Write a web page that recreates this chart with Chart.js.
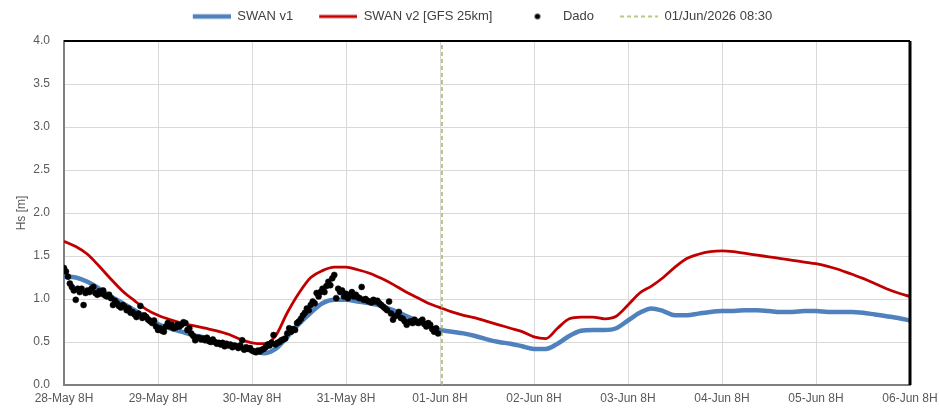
<!DOCTYPE html>
<html>
<head>
<meta charset="UTF-8">
<title>Hs - SWAN</title>
<style>
    body { margin: 0; background: #fff; }
    #hsChart { display: block; }
</style>
</head>
<body>
<canvas id="hsChart" width="939" height="409"></canvas>
<script src="https://cdn.jsdelivr.net/npm/chart.js"></script>
<script>
// eixo x em horas desde 28-May 08:00
const dayLabels = ['28-May 8H', '29-May 8H', '30-May 8H', '31-May 8H', '01-Jun 8H',
                   '02-Jun 8H', '03-Jun 8H', '04-Jun 8H', '05-Jun 8H', '06-Jun 8H'];

const modelStep = 3; // horas entre valores do modelo
const swanV1 = [
    1.26, 1.25, 1.20, 1.12, 1.03, 0.95, 0.87, 0.79, 0.71, 0.66, 0.62, 0.58,
    0.55, 0.50, 0.47, 0.43, 0.40, 0.37, 0.42, 0.56, 0.71, 0.84, 0.95, 0.99,
    0.99, 0.97, 0.95, 0.92, 0.87, 0.81, 0.75, 0.68, 0.64, 0.62, 0.60, 0.57,
    0.53, 0.50, 0.48, 0.45, 0.42, 0.42, 0.48, 0.57, 0.63, 0.64, 0.64, 0.66,
    0.75, 0.84, 0.89, 0.86, 0.81, 0.81, 0.83, 0.85, 0.86, 0.86, 0.87, 0.87,
    0.86, 0.85, 0.85, 0.86, 0.86, 0.85, 0.85, 0.85, 0.84, 0.82, 0.80, 0.78,
    0.75
];
const swanV2 = [
    1.67, 1.61, 1.52, 1.38, 1.23, 1.09, 0.98, 0.88, 0.81, 0.76, 0.72, 0.69,
    0.66, 0.63, 0.59, 0.53, 0.49, 0.48, 0.57, 0.84, 1.07, 1.25, 1.33, 1.37,
    1.37, 1.34, 1.30, 1.24, 1.17, 1.09, 1.02, 0.95, 0.90, 0.85, 0.81, 0.78,
    0.74, 0.70, 0.66, 0.62, 0.56, 0.54, 0.66, 0.77, 0.79, 0.79, 0.77, 0.80,
    0.93, 1.07, 1.15, 1.25, 1.37, 1.47, 1.52, 1.55, 1.56, 1.55, 1.53, 1.51,
    1.49, 1.47, 1.45, 1.43, 1.41, 1.38, 1.34, 1.29, 1.24, 1.18, 1.12, 1.07,
    1.03
];

const dadoStep = 0.5; // horas entre medições
const dado = [
    1.36, 1.32, 1.26, 1.18, 1.14, 1.10, 0.99, 1.12, 1.08, 1.12, 0.93, 1.07,
    1.10, 1.08, 1.12, 1.14, 1.07, 1.05, 1.09, 1.06, 1.10, 1.04, 1.03, 1.05,
    1.01, 0.93, 0.98, 0.95, 0.92, 0.90, 0.93, 0.91, 0.87, 0.89, 0.84, 0.85,
    0.82, 0.79, 0.83, 0.92, 0.78, 0.81, 0.79, 0.76, 0.74, 0.72, 0.75, 0.68,
    0.64, 0.66, 0.63, 0.62, 0.68, 0.72, 0.68, 0.70, 0.66, 0.67, 0.70, 0.68,
    0.70, 0.73, 0.72, 0.64, 0.66, 0.60, 0.57, 0.52, 0.55, 0.55, 0.53, 0.54,
    0.52, 0.55, 0.51, 0.50, 0.53, 0.50, 0.48, 0.49, 0.47, 0.49, 0.45, 0.48,
    0.46, 0.47, 0.44, 0.46, 0.45, 0.43, 0.46, 0.52, 0.41, 0.44, 0.42, 0.43,
    0.40, 0.39, 0.38, 0.40, 0.39, 0.41, 0.42, 0.44, 0.47, 0.46, 0.49, 0.58,
    0.47, 0.49, 0.50, 0.52, 0.53, 0.54, 0.60, 0.66, 0.62, 0.65, 0.64, 0.72,
    0.74, 0.77, 0.81, 0.84, 0.89, 0.87, 0.93, 0.97, 0.95, 1.07, 1.03, 1.08,
    1.12, 1.08, 1.15, 1.20, 1.16, 1.24, 1.28, 1.01, 1.12, 1.08, 1.10, 1.03,
    1.06, 1.01, 1.04, 1.08, 1.03, 1.05, 1.02, 1.01, 1.14, 0.99, 1.00, 0.98,
    0.97, 0.96, 0.99, 0.97, 0.98, 0.95, 0.93, 0.91, 0.89, 0.87, 0.97, 0.83,
    0.76, 0.80, 0.81, 0.85, 0.78, 0.77, 0.74, 0.70, 0.73, 0.74, 0.72, 0.76,
    0.73, 0.72, 0.74, 0.76, 0.71, 0.68, 0.72, 0.70, 0.65, 0.62, 0.66, 0.60
];

const markerHour = 96.5;
const markerLabel = '01/Jun/2026 08:30';

const FONT = "'Liberation Sans', Arial, sans-serif";

function toPoints(values, step) {
    return values.map((v, i) => ({ x: i * step, y: v }));
}

// símbolos da legenda: 26px de espaço à esquerda + 38px de símbolo
function legendSymbol(draw) {
    const c = document.createElement('canvas');
    c.width = 64;
    c.height = 8;
    draw(c.getContext('2d'));
    return c;
}
function lineSymbol(color, width, dash) {
    return legendSymbol(g => {
        g.strokeStyle = color;
        g.lineWidth = width;
        g.setLineDash(dash || []);
        g.beginPath();
        g.moveTo(26, 4);
        g.lineTo(64, 4);
        g.stroke();
    });
}
const symbols = [
    lineSymbol('#4f81bd', 4.5),
    lineSymbol('#c00000', 2.8),
    legendSymbol(g => {
        g.fillStyle = '#000';
        g.beginPath();
        g.arc(45, 4, 2.8, 0, Math.PI * 2);
        g.fill();
    }),
    lineSymbol('#9bbb59', 1.5, [4, 3])
];

// altura fixa da legenda
const legendHeight = {
    id: 'legendHeight',
    beforeInit(chart) {
        const fit = chart.legend.fit;
        chart.legend.fit = function () {
            fit.bind(chart.legend)();
            this.height = 31;
        };
    }
};

// moldura preta em cima e à direita
const frame = {
    id: 'frame',
    afterDatasetsDraw(chart) {
        const { ctx, chartArea: a } = chart;
        ctx.save();
        ctx.strokeStyle = '#000';
        ctx.lineWidth = 2;
        ctx.beginPath();
        ctx.moveTo(a.left, a.top);
        ctx.lineTo(a.right, a.top);
        ctx.stroke();
        ctx.lineWidth = 3;
        ctx.beginPath();
        ctx.moveTo(a.right, a.top);
        ctx.lineTo(a.right, a.bottom);
        ctx.stroke();
        ctx.restore();
    }
};

const ctx = document.getElementById('hsChart').getContext('2d');
new Chart(ctx, {
    type: 'line',
    data: {
        datasets: [
            {
                label: 'SWAN v1',
                data: toPoints(swanV1, modelStep),
                borderColor: '#4f81bd',
                borderWidth: 4.5,
                pointRadius: 0,
                cubicInterpolationMode: 'monotone',
                order: 4
            },
            {
                label: 'SWAN v2 [GFS 25km]',
                data: toPoints(swanV2, modelStep),
                borderColor: '#c00000',
                borderWidth: 2.8,
                pointRadius: 0,
                cubicInterpolationMode: 'monotone',
                order: 3
            },
            {
                label: 'Dado',
                data: toPoints(dado, dadoStep),
                showLine: false,
                pointRadius: 3,
                pointBorderWidth: 0.5,
                pointBackgroundColor: '#000',
                pointBorderColor: '#000',
                borderColor: '#000',
                backgroundColor: '#000',
                order: 1
            },
            {
                label: markerLabel,
                data: [{ x: markerHour, y: 0 }, { x: markerHour, y: 4 }],
                borderColor: '#9bbb59',
                borderWidth: 1.5,
                borderDash: [4, 3],
                pointRadius: 0,
                order: 2
            }
        ]
    },
    options: {
        responsive: false,
        animation: false,
        devicePixelRatio: 1,
        layout: { padding: { top: 10 } },
        plugins: {
            tooltip: { enabled: false },
            legend: {
                position: 'top',
                labels: {
                    usePointStyle: true,
                    pointStyleWidth: 64,
                    boxHeight: 8,
                    padding: 0,
                    color: '#404040',
                    font: { family: FONT, size: 13 },
                    sort: (a, b) => a.datasetIndex - b.datasetIndex,
                    generateLabels(chart) {
                        const items = Chart.defaults.plugins.legend.labels.generateLabels(chart);
                        items.forEach(it => { it.pointStyle = symbols[it.datasetIndex]; });
                        return items;
                    }
                }
            }
        },
        scales: {
            x: {
                type: 'linear',
                min: 0,
                max: 216,
                afterFit(scale) {
                    scale.height = 24;
                    scale.paddingLeft = 0;
                    scale.paddingRight = 29;
                },
                ticks: {
                    stepSize: 24,
                    autoSkip: false,
                    maxRotation: 0,
                    padding: 6,
                    color: '#595959',
                    font: { family: FONT, size: 12 },
                    callback: (v) => dayLabels[v / 24]
                },
                grid: { color: '#d9d9d9', drawTicks: false },
                border: { color: '#7f7f7f', width: 2 }
            },
            y: {
                min: 0,
                max: 4,
                afterFit(scale) { scale.width = 64; },
                ticks: {
                    stepSize: 0.5,
                    padding: 14,
                    color: '#595959',
                    font: { family: FONT, size: 12 },
                    callback: (v) => v.toFixed(1)
                },
                grid: { color: '#d9d9d9', drawTicks: false },
                border: { color: '#7f7f7f', width: 2 },
                title: {
                    display: true,
                    text: 'Hs [m]',
                    color: '#595959',
                    font: { family: FONT, size: 12 },
                    padding: { top: 14, bottom: 0 }
                }
            }
        }
    },
    plugins: [legendHeight, frame]
});
</script>
</body>
</html>
